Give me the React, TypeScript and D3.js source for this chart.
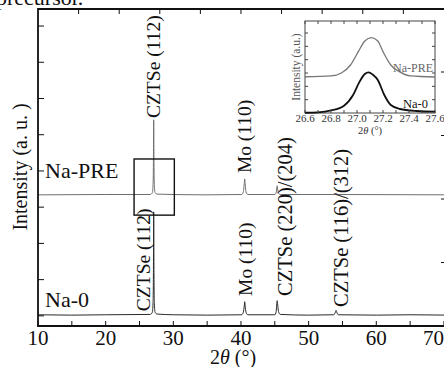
import * as d3 from "d3";
import React from "react";

const W = 444;
const H = 367;
const FONT = "Liberation Serif, Times New Roman, Times, serif";

// XRD patterns, [2theta, intensity above the trace's own baseline]
const na0Pattern: [number, number][] = [
  [10, 0.03], [15, 0.02], [20, 0.03], [26.6, 0.04], [26.9, 0.1], [27.0, 0.35],
  [27.06, 1.2], [27.1, 2.87], [27.14, 1.2], [27.2, 0.35], [27.3, 0.1], [27.6, 0.05],
  [30, 0.03], [35, 0.02], [40.1, 0.03], [40.35, 0.1], [40.5, 0.3], [40.55, 0.39],
  [40.6, 0.3], [40.75, 0.1], [41.0, 0.03], [45.0, 0.03], [45.2, 0.12], [45.3, 0.35],
  [45.35, 0.42], [45.4, 0.35], [45.55, 0.12], [45.8, 0.04], [50, 0.02], [53.7, 0.03],
  [53.95, 0.1], [54.05, 0.15], [54.15, 0.1], [54.4, 0.03], [60, 0.02], [65, 0.03], [71, 0.02],
];
const naPrePattern: [number, number][] = [
  [10, 0], [20, 0.01], [26.6, 0.01], [26.9, 0.06], [27.0, 0.25], [27.06, 0.9],
  [27.1, 2.07], [27.14, 0.9], [27.2, 0.25], [27.3, 0.06], [27.6, 0.02], [35, 0],
  [40.1, 0.01], [40.35, 0.08], [40.5, 0.35], [40.55, 0.44], [40.6, 0.35], [40.75, 0.08],
  [41, 0.01], [45, 0.01], [45.2, 0.06], [45.35, 0.25], [45.5, 0.06], [45.8, 0.01],
  [53.8, 0.01], [54.05, 0.05], [54.3, 0.01], [71, 0],
];
const naPreOffset = 3.34;

// peak labels: position, label bottom (intensity), x shift of baseline
const peakLabels = [
  { text: "CZTSe (112)", pos: 27.1, at: 5.46, dx: 6.5 },
  { text: "Mo (110)", pos: 40.55, at: 3.94, dx: 6.3 },
  { text: "CZTSe (112)", pos: 27.1, at: 0.13, dx: -3.5 },
  { text: "Mo (110)", pos: 40.55, at: 0.55, dx: 7 },
  { text: "CZTSe (220)/(204)", pos: 45.35, at: 0.55, dx: 15 },
  { text: "CZTSe (116)/(312)", pos: 54.05, at: 0.245, dx: 12 },
];

const xTickLabels = [10, 20, 30, 40, 50, 60, 70];
const xMinor = d3.range(10, 71, 5);
const topTicks = [16, 22, 28, 34, 40, 46, 52, 58, 64];
const yTicks = d3.range(0, 9);
const zoomBox = { x0: 24.2, x1: 30.15, y0: 2.78, y1: 4.33 };

// inset, (112) peak close up
const insetNa0: [number, number][] = [
  [26.6, 0.02], [26.7, 0.05], [26.8, 0.19], [26.9, 0.55], [26.97, 1.35], [27.02, 2.35],
  [27.06, 2.93], [27.09, 3.05], [27.12, 2.89], [27.16, 2.48], [27.21, 1.35], [27.26, 0.6],
  [27.33, 0.3], [27.46, 0.15], [27.6, 0.1],
];
const insetNaPre: [number, number][] = [
  [26.6, 2.72], [26.8, 2.78], [26.88, 3.0], [26.95, 3.6], [27.01, 4.6], [27.06, 5.4],
  [27.11, 5.65], [27.16, 5.4], [27.2, 4.6], [27.26, 3.6], [27.33, 3.08], [27.41, 2.78],
  [27.6, 2.7],
];
const insetXLabels = [26.6, 26.8, 27.0, 27.2, 27.4, 27.6];

export default function App() {
  const x = d3.scaleLinear().domain([10, 70.45]).range([38, 447]);
  const y = d3.scaleLinear().domain([-0.28, 8.47]).range([326, 9]);
  const yRight = d3.scaleLinear().domain([0, 5]).range([326, 8.5]);
  const [x0, x1] = x.range();
  const [yb, yt] = y.range();

  const line = d3
    .line<[number, number]>()
    .x((d) => x(d[0]))
    .y((d) => y(d[1]))
    .curve(d3.curveMonotoneX);
  const prePath = line(naPrePattern.map((d) => [d[0], d[1] + naPreOffset] as [number, number]));
  const na0Path = line(na0Pattern);

  const ix = d3.scaleLinear().domain([26.6, 27.6]).range([305, 435]);
  const iy = d3.scaleLinear().domain([0, 6.9]).range([113, 21]);
  const iline = d3
    .line<[number, number]>()
    .x((d) => ix(d[0]))
    .y((d) => iy(d[1]))
    .curve(d3.curveMonotoneX);
  const ixTicks = d3.range(26.6, 27.61, 0.1);
  const iyTicks = d3.range(1, 7);

  return (
    <svg
      width={W}
      height={H}
      style={{ position: "absolute", left: 0, top: 0, background: "#fff", fontFamily: FONT }}
    >
      <text x={-4} y={5} fontSize={22} fill="#111">precursor.</text>

      {/* traces */}
      <path d={prePath ?? ""} fill="none" stroke="#6e6e6e" strokeWidth={1} />
      <path d={na0Path ?? ""} fill="none" stroke="#2a2a2a" strokeWidth={1} />

      {/* peak labels */}
      {peakLabels.map((p, i) => (
        <text
          key={i}
          transform={`translate(${x(p.pos) + p.dx},${y(p.at)}) rotate(-90)`}
          fontSize={p.text.length > 12 ? 20.5 : 19.5}
          fill="#111"
        >
          {p.text}
        </text>
      ))}

      <text x={45} y={178} fontSize={22} fill="#111">Na-PRE</text>
      <text x={45} y={307} fontSize={22} fill="#111">Na-0</text>

      {/* zoom box */}
      <rect
        x={x(zoomBox.x0)}
        y={y(zoomBox.y1)}
        width={x(zoomBox.x1) - x(zoomBox.x0)}
        height={y(zoomBox.y0) - y(zoomBox.y1)}
        fill="none"
        stroke="#111"
        strokeWidth={1.4}
      />

      {/* frame and ticks */}
      <path
        d={`M${x1},${yb}H${x0}V${yt}H${x1}`}
        fill="none"
        stroke="#111"
        strokeWidth={1.8}
      />
      {xMinor.map((v) => (
        <line key={"b" + v} x1={x(v)} x2={x(v)} y1={yb} y2={yb - 5} stroke="#111" strokeWidth={1} />
      ))}
      {topTicks.map((v) => (
        <line key={"t" + v} x1={x(v)} x2={x(v)} y1={yt} y2={yt + 5} stroke="#111" strokeWidth={1} />
      ))}
      {yTicks.map((v) => (
        <line key={"l" + v} x1={x0} x2={x0 + 6} y1={y(v)} y2={y(v)} stroke="#111" strokeWidth={1} />
      ))}
      {yRight.ticks(5).slice(1, -1).map((v) => (
        <line key={"r" + v} x1={x1} x2={x1 - 6} y1={yRight(v)} y2={yRight(v)} stroke="#111" strokeWidth={1} />
      ))}
      {xTickLabels.map((v) => (
        <text
          key={"xl" + v}
          x={v === 70 ? W : x(v)}
          y={345}
          fontSize={21}
          textAnchor={v === 70 ? "end" : "middle"}
          fill="#111"
        >
          {v}
        </text>
      ))}
      <text x={233} y={364} fontSize={20} textAnchor="middle" fill="#111">
        2<tspan fontStyle="italic">θ</tspan> (°)
      </text>
      <text transform="translate(27,167) rotate(-90)" fontSize={20} textAnchor="middle" fill="#111">
        Intensity (a. u. )
      </text>

      {/* inset */}
      <g>
        <rect x={305} y={21} width={130} height={92} fill="#fff" stroke="#444" strokeWidth={1} />
        <path d={iline(insetNaPre) ?? ""} fill="none" stroke="#777" strokeWidth={1.3} />
        <path d={iline(insetNa0) ?? ""} fill="none" stroke="#111" strokeWidth={1.8} />
        {ixTicks.map((v, i) => (
          <g key={"ix" + i}>
            <line x1={ix(v)} x2={ix(v)} y1={113} y2={110} stroke="#444" />
            <line x1={ix(v)} x2={ix(v)} y1={21} y2={24} stroke="#444" />
          </g>
        ))}
        {iyTicks.map((v) => (
          <g key={"iy" + v}>
            <line x1={305} x2={308} y1={iy(v)} y2={iy(v)} stroke="#444" />
            <line x1={435} x2={432} y1={iy(v)} y2={iy(v)} stroke="#444" />
          </g>
        ))}
        {insetXLabels.map((v) => (
          <text key={"il" + v} x={ix(v)} y={122} fontSize={11} textAnchor="middle" fill="#333">
            {d3.format(".1f")(v)}
          </text>
        ))}
        <text x={370} y={134} fontSize={10.5} textAnchor="middle" fill="#333">
          2<tspan fontStyle="italic">θ</tspan> (°)
        </text>
        <text transform="translate(300,67) rotate(-90)" fontSize={11.5} textAnchor="middle" fill="#555">
          Intensity (a.u.)
        </text>
        <text x={433} y={72} fontSize={12} textAnchor="end" fill="#666">Na-PRE</text>
        <text x={428} y={108} fontSize={12.5} textAnchor="end" fill="#111">Na-0</text>
      </g>
    </svg>
  );
}
